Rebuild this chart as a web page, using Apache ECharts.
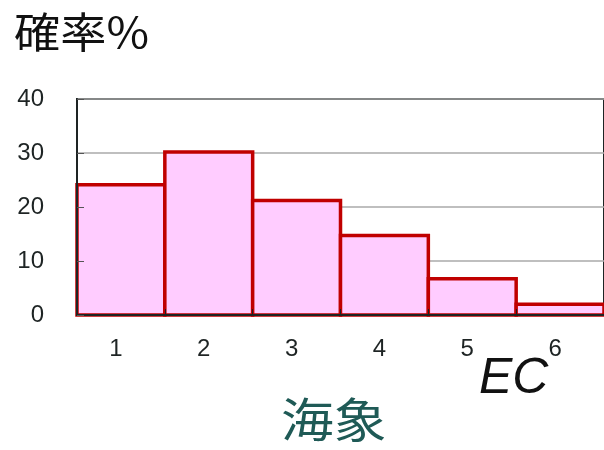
<!DOCTYPE html>
<html>
<head>
<meta charset="utf-8">
<script src="https://cdn.jsdelivr.net/npm/echarts@6/dist/echarts.min.js"></script>
<style>
  html, body { margin: 0; padding: 0; background: #fff; }
  #chart { width: 604px; height: 450px; }
</style>
</head>
<body>
<div id="chart"></div>
<script>
// Histogram of probabilities (%) per class
const categories = ['1', '2', '3', '4', '5', '6'];
const probabilities = [24.1, 30.2, 21.2, 14.7, 6.7, 2.0];
const yTicks = { min: 0, max: 40, interval: 10 };
const titleText = '確率%';
const unitText = 'EC';
const axisTitle = '海象';

const AXIS_COLOR = '#1e2424';
const LABEL_FONT = '"Liberation Sans", Arial, sans-serif';

// Each bar fills its whole category band; the outline straddles the band edges
function renderBar(params, api) {
  const idx = api.value(0);
  const top = api.coord([idx, api.value(1)]);
  const base = api.coord([idx, 0]);
  const w = api.size([1, 0])[0];
  return {
    type: 'rect',
    shape: { x: top[0] - w / 2, y: top[1], width: w, height: base[1] - top[1] },
    style: { fill: '#ffccff', stroke: '#c00000', lineWidth: 3.5 }
  };
}

const chart = echarts.init(document.getElementById('chart'));
chart.setOption({
  animation: false,
  backgroundColor: '#ffffff',
  grid: {
    left: 77,
    top: 99,
    bottom: 135,
    width: 531,
    show: true,
    borderColor: AXIS_COLOR,
    borderWidth: 2,
    backgroundColor: 'transparent'
  },
  xAxis: {
    type: 'category',
    data: categories,
    boundaryGap: true,
    zlevel: 2,
    axisLine: { show: true, lineStyle: { color: AXIS_COLOR, width: 2 } },
    axisTick: { show: true, inside: true, length: 6, lineStyle: { color: AXIS_COLOR, width: 1 } },
    axisLabel: {
      margin: 22,
      padding: [0, 10, 0, 0],
      fontFamily: LABEL_FONT,
      fontSize: 24,
      color: AXIS_COLOR
    },
    splitLine: { show: false }
  },
  yAxis: [
    {
      // gridlines and labels, beneath the bars
      type: 'value',
      min: yTicks.min,
      max: yTicks.max,
      interval: yTicks.interval,
      zlevel: 0,
      axisLine: { show: false },
      axisTick: { show: false },
      axisLabel: {
        margin: 33,
        fontFamily: LABEL_FONT,
        fontSize: 24,
        color: AXIS_COLOR
      },
      splitLine: { show: true, lineStyle: { color: '#aaaaaa', width: 1.5 } }
    },
    {
      // axis line and inner ticks, over the bars
      type: 'value',
      position: 'left',
      min: yTicks.min,
      max: yTicks.max,
      interval: yTicks.interval,
      zlevel: 2,
      axisLine: { show: true, onZero: false, lineStyle: { color: AXIS_COLOR, width: 2 } },
      axisTick: { show: true, inside: true, length: 7, lineStyle: { color: '#555', width: 1 } },
      axisLabel: { show: false },
      splitLine: { show: false }
    }
  ],
  series: [{
    type: 'custom',
    renderItem: renderBar,
    clip: false,
    zlevel: 1,
    yAxisIndex: 0,
    encode: { x: 0, y: 1 },
    data: probabilities.map((v, i) => [i, v])
  }],
  graphic: [
    {
      type: 'text',
      left: 14,
      top: 11,
      scaleX: 1.1,
      style: {
        text: titleText,
        font: '42px "Noto Sans CJK JP", sans-serif',
        fill: '#111'
      }
    },
    {
      type: 'text',
      left: 479,
      top: 354,
      style: {
        text: unitText,
        font: 'italic 50px "Liberation Sans", Arial, sans-serif',
        fill: '#111'
      }
    },
    {
      type: 'text',
      left: 281,
      top: 396,
      scaleX: 1.12,
      style: {
        text: axisTitle,
        font: '47px "Noto Sans CJK JP", sans-serif',
        fill: '#1f5a56'
      }
    }
  ]
});
</script>
</body>
</html>
